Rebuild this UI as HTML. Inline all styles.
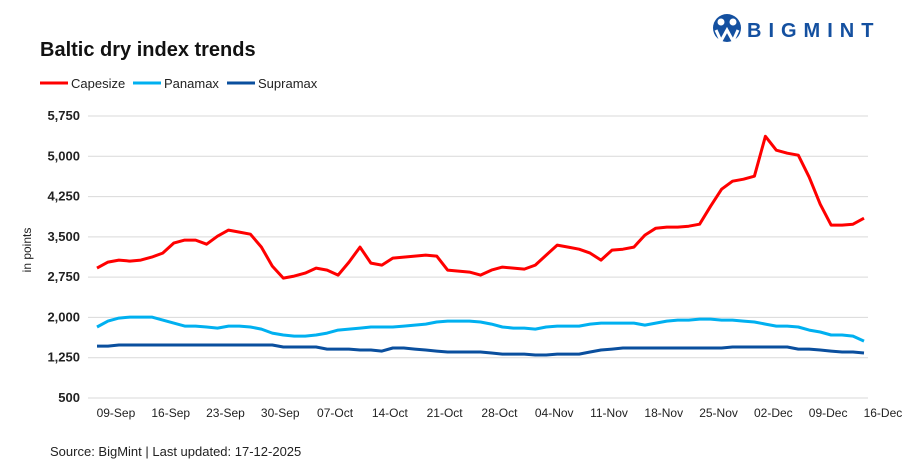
<!DOCTYPE html>
<html><head><meta charset="utf-8"><style>
body{margin:0;background:#fff;font-family:"Liberation Sans",Arial,sans-serif;}
#wrap{position:relative;width:909px;height:476px;overflow:hidden;}
</style></head><body>
<div id="wrap">
<svg id="chart" width="909" height="476" xmlns="http://www.w3.org/2000/svg">
  <text x="40" y="56" font-size="20" font-weight="bold" fill="#111">Baltic dry index trends</text>
  <g>
    <circle cx="727" cy="28" r="14" fill="#1450a0"/>
    <circle cx="721" cy="22" r="3.5" fill="#fff"/><circle cx="733" cy="22" r="3.5" fill="#fff"/>
    <path d="M716 30 L721 41 L727 30 L733 41 L738 30" stroke="#fff" stroke-width="3" fill="none"/>
    <text x="747" y="37" font-size="20" font-weight="bold" fill="#1450a0" letter-spacing="7">BIGMINT</text>
  </g>
  <g>
    <g><line x1="40" y1="83" x2="68" y2="83" stroke="#ff0000" stroke-width="3"/><text x="71" y="88" font-size="13" fill="#222">Capesize</text></g>
    <g><line x1="133" y1="83" x2="161" y2="83" stroke="#00b0f0" stroke-width="3"/><text x="164" y="88" font-size="13" fill="#222">Panamax</text></g>
    <g><line x1="227" y1="83" x2="255" y2="83" stroke="#0a4f9e" stroke-width="3"/><text x="258" y="88" font-size="13" fill="#222">Supramax</text></g>
  </g>
  <text transform="translate(31,250) rotate(-90)" text-anchor="middle" font-size="12" fill="#222">in points</text>
  <g id="grid"></g><g id="yticks"></g><g id="xticks"></g><g id="series"></g>
  <text x="50" y="456" font-size="13" fill="#222">Source: BigMint | Last updated: 17-12-2025</text>
</svg>
</div>
<script>
const yTicks=[500,1250,2000,2750,3500,4250,5000,5750];
const xLabels=["09-Sep","16-Sep","23-Sep","30-Sep","07-Oct","14-Oct","21-Oct","28-Oct","04-Nov","11-Nov","18-Nov","25-Nov","02-Dec","09-Dec","16-Dec"];
const capesize=[2918,3030,3067,3048,3067,3123,3197,3383,3439,3439,3364,3513,3625,3588,3550,3309,2955,2732,2769,2825,2918,2881,2788,3030,3309,3011,2974,3104,3123,3141,3160,3141,2881,2862,2844,2788,2881,2937,2918,2899,2974,3160,3346,3309,3271,3197,3067,3253,3271,3309,3532,3662,3681,3681,3699,3736,4071,4387,4536,4573,4629,5373,5113,5057,5020,4611,4108,3718,3718,3736,3848];
const panamax=[1821,1932,1988,2007,2007,2007,1951,1895,1839,1839,1821,1802,1839,1839,1821,1783,1709,1672,1653,1653,1672,1709,1765,1783,1802,1821,1821,1821,1839,1858,1876,1914,1932,1932,1932,1914,1876,1821,1802,1802,1783,1821,1839,1839,1839,1876,1895,1895,1895,1895,1858,1895,1932,1951,1951,1969,1969,1951,1951,1932,1914,1876,1839,1839,1821,1765,1728,1672,1672,1653,1560];
const supramax=[1467,1467,1486,1486,1486,1486,1486,1486,1486,1486,1486,1486,1486,1486,1486,1486,1486,1449,1449,1449,1449,1411,1411,1411,1393,1393,1374,1430,1430,1411,1393,1374,1356,1356,1356,1356,1337,1318,1318,1318,1300,1300,1318,1318,1318,1356,1393,1411,1430,1430,1430,1430,1430,1430,1430,1430,1430,1430,1449,1449,1449,1449,1449,1449,1411,1411,1393,1374,1356,1356,1337];
const NS="http://www.w3.org/2000/svg";
const yMin=500,yMax=5750,yBot=398,yTop=116;
function yScale(v){return yBot-(v-yMin)/(yMax-yMin)*(yBot-yTop);}
const step=(864-97)/70;
function xScale(i){return 97+i*step;}
const grid=document.getElementById('grid'),yt=document.getElementById('yticks'),xt=document.getElementById('xticks'),ser=document.getElementById('series');
yTicks.forEach(v=>{
  const l=document.createElementNS(NS,'line');
  l.setAttribute('x1',88);l.setAttribute('x2',868);l.setAttribute('y1',yScale(v));l.setAttribute('y2',yScale(v));
  l.setAttribute('stroke','#d9d9d9');l.setAttribute('stroke-width','1');
  
  
  grid.appendChild(l);
  const t=document.createElementNS(NS,'text');
  t.setAttribute('x',80);t.setAttribute('y',yScale(v)+4);t.setAttribute('text-anchor','end');
  t.setAttribute('font-size','13');t.setAttribute('font-weight','bold');t.setAttribute('fill','#222');
  t.textContent=v.toLocaleString('en-US');
  
  
  yt.appendChild(t);
});
xLabels.forEach((s,k)=>{
  const t=document.createElementNS(NS,'text');
  t.setAttribute('x',xScale(2+5*k)-3);t.setAttribute('y',417);t.setAttribute('text-anchor','middle');
  t.setAttribute('font-size','12');t.setAttribute('fill','#222');
  t.textContent=s;
  
  
  xt.appendChild(t);
});
[[capesize,'#ff0000','capesize-line'],[panamax,'#00b0f0','panamax-line'],[supramax,'#0a4f9e','supramax-line']].forEach(([d,c,n])=>{
  const p=document.createElementNS(NS,'polyline');
  p.setAttribute('points',d.map((v,i)=>xScale(i).toFixed(1)+','+yScale(v).toFixed(1)).join(' '));
  p.setAttribute('fill','none');p.setAttribute('stroke',c);p.setAttribute('stroke-width','3');p.setAttribute('stroke-linejoin','round');
  
  
  ser.appendChild(p);
});
</script>
</body></html>
